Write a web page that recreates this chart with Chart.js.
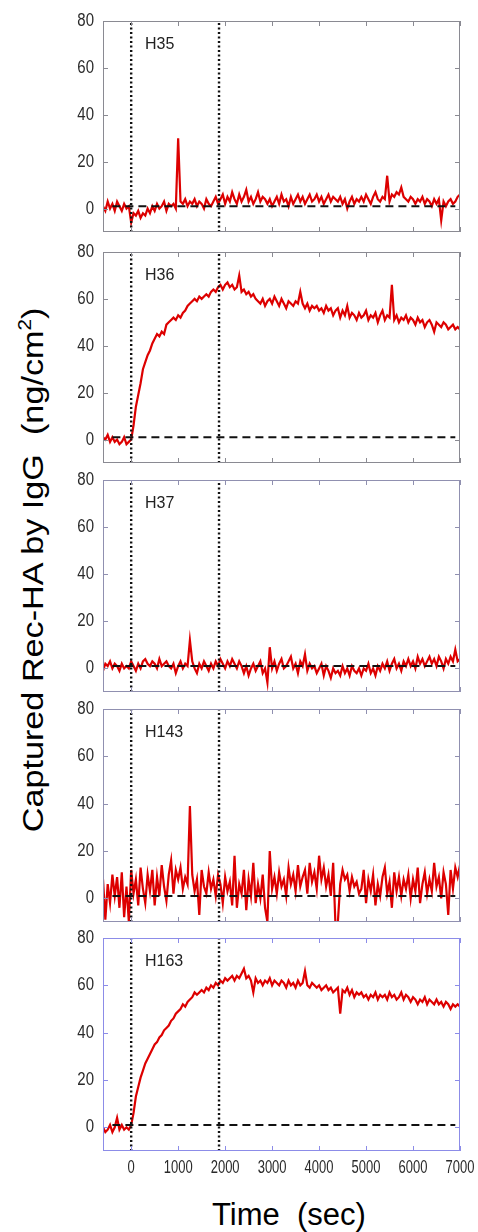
<!DOCTYPE html>
<html>
<head>
<meta charset="utf-8">
<script src="https://cdn.jsdelivr.net/npm/chart.js@4.4.1/dist/chart.umd.min.js"></script>
<style>
  html, body { margin: 0; padding: 0; background: #fff; }
  body { width: 478px; height: 1232px; position: relative; overflow: hidden; font-family: "Liberation Sans", Arial, sans-serif; }
  canvas { position: absolute; }
  .ytitle {
    position: absolute; left: 33px; top: 570px; white-space: nowrap;
    font-size: 30px; line-height: 1; color: #000;
    transform: translate(-50%, -50%) rotate(-90deg) scaleX(1.14);
  }
  .ytitle sup { font-size: 18px; vertical-align: 12px; line-height: 0; }
  .xtitle {
    position: absolute; left: 289px; top: 1214px; white-space: nowrap;
    font-size: 31px; line-height: 1; color: #000;
    transform: translate(-50%, -50%);
  }
</style>
</head>
<body>
<div class="ytitle">Captured Rec-HA by IgG&nbsp;&nbsp;(ng/cm<sup>2</sup>)</div>
<div class="xtitle">Time&nbsp;&nbsp;(sec)</div>
<script>
// sampling times (sec)
const TIMES = [
  -600,-550,-500,-450,-400,-350,-300,-250,-200,-150,
  -100,-50,0,50,100,150,200,250,300,350,
  400,450,500,550,600,650,700,750,800,850,
  900,950,1000,1050,1100,1150,1200,1250,1300,1350,
  1400,1450,1500,1550,1600,1650,1700,1750,1800,1850,
  1900,1950,2000,2050,2100,2150,2200,2250,2300,2350,
  2400,2450,2500,2550,2600,2650,2700,2750,2800,2850,
  2900,2950,3000,3050,3100,3150,3200,3250,3300,3350,
  3400,3450,3500,3550,3600,3650,3700,3750,3800,3850,
  3900,3950,4000,4050,4100,4150,4200,4250,4300,4350,
  4400,4450,4500,4550,4600,4650,4700,4750,4800,4850,
  4900,4950,5000,5050,5100,5150,5200,5250,5300,5350,
  5400,5450,5500,5550,5600,5650,5700,5750,5800,5850,
  5900,5950,6000,6050,6100,6150,6200,6250,6300,6350,
  6400,6450,6500,6550,6600,6650,6700,6750,6800,6850,
  6900,6950,7000
];

const H35 = [
  1,-1,3,0,2,-1,3,1,-1,2,
  0,1,-6,-2,-3,-1,-4,-2,-3,0,
  -2,1,-1,2,0,1,3,-1,2,1,
  2,0,30,3,2,4,1,3,2,4,
  1,3,2,0,4,2,1,3,5,2,
  4,6,2,5,3,7,4,2,6,3,
  5,8,3,5,2,4,7,3,5,4,
  2,4,1,3,5,2,6,3,4,1,
  5,2,4,6,3,5,2,4,6,3,
  4,6,3,5,2,4,6,3,5,4,
  3,5,2,4,0,3,5,2,4,3,
  5,3,6,4,2,5,7,4,3,5,
  4,14,3,6,5,7,6,9,5,4,
  3,5,4,2,4,3,5,2,4,3,
  1,4,2,4,-5,3,1,3,4,2,
  3,5,6
];

const H36 = [
  1,0,2,-1,1,-1,0,-2,-1,1,
  -2,-1,0,6,14,19,24,30,33,36,
  38,41,43,45,44,46,45,49,50,51,
  52,51,53,52,54,55,57,58,59,60,
  59,61,60,61,62,61,63,64,63,65,
  66,64,66,67,65,66,64,65,70,63,
  64,62,63,61,62,60,59,58,60,57,
  59,60,58,61,59,57,60,58,56,59,
  58,57,59,58,63,58,56,58,55,57,
  56,57,55,56,54,57,55,56,53,55,
  56,52,55,53,57,52,54,53,51,54,
  52,53,55,51,53,52,54,50,53,55,
  51,53,52,66,51,53,50,52,51,53,
  50,52,51,49,52,50,51,48,50,51,
  49,46,50,49,48,50,49,47,48,49,
  47,48,47
];

const H37 = [
  -1,2,1,3,0,2,1,-1,2,0,
  1,0,3,1,-1,2,0,3,4,2,
  1,3,2,0,4,1,2,3,1,0,
  2,-2,1,3,0,2,1,12,3,0,
  -2,2,0,3,1,-1,2,0,3,1,
  4,2,0,3,1,4,2,0,3,1,
  -2,1,-3,0,2,-1,1,3,-2,0,
  -6,9,0,3,-1,2,4,0,1,3,
  5,0,2,-2,3,1,6,-1,2,0,
  1,-2,0,2,-3,1,-1,-4,0,-2,
  -1,-3,1,-2,0,-3,1,-1,-2,0,
  -3,0,-1,2,-2,0,-3,1,-1,2,
  0,3,-1,2,4,0,2,-1,3,1,
  4,1,3,0,5,2,4,1,3,5,
  2,4,1,5,3,0,4,2,5,3,
  8,3,4
];

const H143 = [
  8,-9,6,-2,10,1,9,-4,11,-8,
  5,-10,12,2,8,-3,13,4,-2,10,
  3,12,-3,9,1,14,5,-1,10,16,
  2,12,8,13,4,9,6,39,10,3,
  8,-7,12,5,2,11,4,8,1,10,
  6,-2,9,3,7,-3,18,-4,6,2,
  12,-5,8,1,15,-2,6,0,10,-4,
  -10,20,4,9,2,11,5,8,1,13,
  6,10,3,14,5,9,12,2,15,7,
  11,4,18,8,13,5,10,1,15,-12,
  -10,6,12,8,10,3,9,5,7,2,
  4,12,-2,8,3,10,-3,6,1,9,
  13,2,7,-4,11,3,9,1,8,4,
  10,0,8,3,13,-2,6,11,2,8,
  3,15,5,9,0,11,6,-7,12,4,
  13,9,14
];

const H163 = [
  0,-2,-1,1,-2,0,4,-1,1,-1,
  0,-1,1,6,13,17,21,24,27,29,
  31,33,35,36,38,39,41,42,43,45,
  46,48,49,50,52,51,53,54,55,57,
  56,57,58,57,59,58,60,59,61,60,
  62,61,63,62,63,64,62,64,63,65,
  67,63,64,62,57,63,61,62,60,62,
  61,63,60,62,61,60,62,61,59,62,
  60,61,59,62,60,61,66,60,59,61,
  60,59,60,58,59,60,58,59,57,58,
  59,48,58,57,59,56,58,55,57,56,
  57,55,56,54,56,55,57,54,56,55,
  56,54,57,55,56,54,55,57,54,56,
  55,53,55,54,52,54,53,55,52,54,
  53,52,54,52,53,51,53,52,50,52,
  51,52,51
];

const PANEL_NAMES = ['H35', 'H36', 'H37', 'H143', 'H163'];
const SERIES = [H35, H36, H37, H143, H163];

const X_TICKS = [0, 1000, 2000, 3000, 4000, 5000, 6000, 7000];
const Y_TICKS = [0, 20, 40, 60, 80];
const X_MIN = -600, X_MAX = 7000;
const Y_MIN = -10, Y_MAX = 80;

// injection start, wash start, baseline level
const INJECT_T = 0;
const WASH_T = 1870;
const BASELINE = 1;
const BASELINE_FROM = -400, BASELINE_TO = 6900;

// layout
const PANEL_TOP = [21, 252, 480, 709, 938];
const PANEL_BOTTOM = [232, 463, 692, 922, 1151];
const FRAME_COLOR = ['#8a8a92', '#8a8a92', '#9090b0', '#9090b0', '#8c8ce8'];

// tick labels in the original are tall and narrow, so they get a vertical stretch
function stretchedText(ctx, text, x, y, stretch) {
  ctx.save();
  ctx.translate(x, y);
  ctx.scale(1, stretch);
  ctx.fillText(text, 0, 0);
  ctx.restore();
}

const framePlugin = {
  id: 'frame',
  afterDatasetsDraw(chart, args, opts) {
    const { ctx, chartArea: a } = chart;
    const xs = chart.scales.x, ys = chart.scales.y;
    ctx.save();
    ctx.strokeStyle = opts.color;
    ctx.lineWidth = 1;
    ctx.strokeRect(a.left + 0.5, a.top + 0.5, a.right - a.left - 1, a.bottom - a.top - 1);
    ctx.beginPath();
    X_TICKS.forEach(v => {
      const px = Math.round(xs.getPixelForValue(v)) + 0.5;
      ctx.moveTo(px, a.bottom); ctx.lineTo(px, a.bottom - 5);
      ctx.moveTo(px, a.top); ctx.lineTo(px, a.top + 5);
    });
    Y_TICKS.forEach(v => {
      const py = Math.round(ys.getPixelForValue(v)) + 0.5;
      ctx.moveTo(a.left, py); ctx.lineTo(a.left + 5, py);
      ctx.moveTo(a.right, py); ctx.lineTo(a.right - 5, py);
    });
    ctx.stroke();

    ctx.fillStyle = '#2a2a2a';
    ctx.textBaseline = 'middle';
    ctx.font = '15px "Liberation Sans", Arial, sans-serif';
    ctx.textAlign = 'right';
    Y_TICKS.forEach(v => stretchedText(ctx, String(v), a.left - 9, ys.getPixelForValue(v), 1.2));
    if (opts.showX) {
      ctx.font = '13px "Liberation Sans", Arial, sans-serif';
      ctx.textAlign = 'center';
      X_TICKS.forEach(v => stretchedText(ctx, String(v), xs.getPixelForValue(v), a.bottom + 17, 1.42));
    }

    ctx.fillStyle = '#222';
    ctx.font = '16px "Liberation Sans", Arial, sans-serif';
    ctx.textAlign = 'left';
    ctx.fillText(opts.label, a.left + 42, a.top + 24);
    ctx.restore();
  }
};

function makePanel(i) {
  const isLast = i === SERIES.length - 1;
  const bottomExtra = isLast ? 30 : 4;
  const canvas = document.createElement('canvas');
  canvas.width = 418;
  canvas.height = PANEL_BOTTOM[i] - PANEL_TOP[i] + 12 + bottomExtra;
  canvas.style.left = '60px';
  canvas.style.top = (PANEL_TOP[i] - 12) + 'px';
  document.body.appendChild(canvas);

  const values = SERIES[i];
  const trace = TIMES.map((t, k) => ({ x: t, y: values[k] }));

  new Chart(canvas, {
    type: 'line',
    data: {
      datasets: [
        {
          data: [{ x: INJECT_T, y: Y_MIN }, { x: INJECT_T, y: Y_MAX }],
          borderColor: '#111', borderWidth: 2.4, borderDash: [2, 2.5]
        },
        {
          data: [{ x: WASH_T, y: Y_MIN }, { x: WASH_T, y: Y_MAX }],
          borderColor: '#111', borderWidth: 2.4, borderDash: [2, 2.5]
        },
        {
          data: [{ x: BASELINE_FROM, y: BASELINE }, { x: BASELINE_TO, y: BASELINE }],
          borderColor: '#111', borderWidth: 2, borderDash: [8, 5]
        },
        {
          data: trace,
          borderColor: '#dd0000', borderWidth: 2.2
        }
      ]
    },
    options: {
      responsive: false,
      animation: false,
      events: [],
      elements: { point: { radius: 0 }, line: { tension: 0 } },
      layout: { padding: { top: 12, right: 18, bottom: isLast ? 0 : 4, left: 0 } },
      scales: {
        x: {
          type: 'linear', min: X_MIN, max: X_MAX,
          afterBuildTicks: axis => { axis.ticks = X_TICKS.map(v => ({ value: v })); },
          afterFit: axis => { axis.height = isLast ? 30 : 0; },
          grid: { display: false, drawTicks: false },
          border: { display: false },
          ticks: { display: false }
        },
        y: {
          type: 'linear', min: Y_MIN, max: Y_MAX,
          afterBuildTicks: axis => { axis.ticks = Y_TICKS.map(v => ({ value: v })); },
          afterFit: axis => { axis.width = 43; },
          grid: { display: false, drawTicks: false },
          border: { display: false },
          ticks: { display: false }
        }
      },
      plugins: {
        legend: { display: false },
        tooltip: { enabled: false },
        frame: { color: FRAME_COLOR[i], label: PANEL_NAMES[i], showX: isLast }
      }
    },
    plugins: [framePlugin]
  });
}

for (let i = 0; i < SERIES.length; i++) makePanel(i);
</script>
</body>
</html>
